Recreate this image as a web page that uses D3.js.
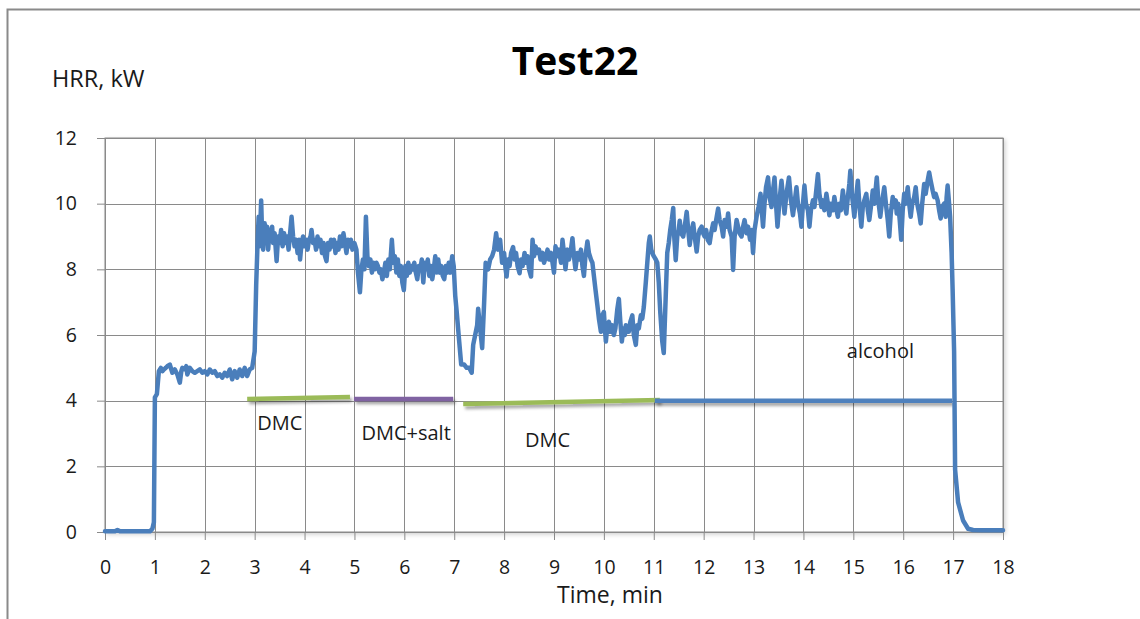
<!DOCTYPE html>
<html>
<head>
<meta charset="utf-8">
<script src="https://cdn.jsdelivr.net/npm/d3@7"></script>
<style>
  html, body { margin: 0; padding: 0; background: #fff; }
  svg { display: block; font-family: "Open Sans", "Noto Sans", sans-serif; }
</style>
</head>
<body>
<svg id="chart" width="1140" height="619"></svg>
<script>
// Heat release rate, Test22: [time (min), HRR (kW)] by stage of the test
const hrrBefore = [
  [0, 0.02], [0.2, 0.02], [0.25, 0.06], [0.3, 0.02], [0.9, 0.02], [0.95, 0.1], [0.98, 0.3]
];
const hrrIgnition = [
  [1.0, 4.1], [1.04, 4.2], [1.08, 4.9], [1.12, 5.0], [1.15, 4.9], [1.18, 4.95], [1.22, 5.0],
  [1.25, 5.05], [1.3, 5.1], [1.33, 4.95], [1.35, 4.85], [1.4, 4.95], [1.45, 4.8], [1.5, 4.55],
  [1.53, 4.9], [1.55, 5.0], [1.6, 4.95], [1.63, 5.05], [1.65, 4.8], [1.7, 5.0], [1.75, 4.9],
  [1.8, 4.85], [1.85, 4.9], [1.9, 4.95], [1.95, 4.85], [2.0, 4.9], [2.05, 4.8], [2.1, 4.95],
  [2.15, 4.85], [2.2, 4.9], [2.25, 4.75], [2.3, 4.8], [2.35, 4.7], [2.4, 4.85], [2.45, 4.75],
  [2.5, 4.95], [2.55, 4.65], [2.6, 4.9], [2.65, 4.7], [2.7, 4.95], [2.75, 4.75], [2.8, 5.0],
  [2.85, 4.75], [2.9, 4.95], [2.95, 5.0], [2.98, 5.3]
];
const hrrDmc1 = [
  [3.0, 5.5], [3.03, 7.5], [3.06, 8.9], [3.08, 9.6], [3.1, 8.7], [3.13, 10.1], [3.15, 9.0],
  [3.17, 8.6], [3.2, 9.4], [3.22, 8.8], [3.25, 9.3], [3.27, 8.6], [3.3, 9.2], [3.32, 8.9],
  [3.35, 9.3], [3.37, 8.8], [3.4, 9.1], [3.44, 8.25], [3.47, 9.0], [3.5, 8.8], [3.53, 9.2],
  [3.56, 8.7], [3.59, 9.1], [3.62, 8.8], [3.65, 9.0], [3.68, 8.6], [3.71, 9.1], [3.74, 9.6],
  [3.77, 9.0], [3.8, 8.7], [3.83, 8.9], [3.86, 8.5], [3.89, 8.9], [3.91, 8.3], [3.94, 8.8],
  [3.97, 9.0], [4.0, 8.7], [4.03, 8.9], [4.06, 8.6], [4.09, 8.9], [4.12, 9.0], [4.14, 9.2],
  [4.17, 8.8], [4.2, 8.9], [4.23, 8.6], [4.26, 9.0], [4.29, 8.7], [4.32, 8.9], [4.35, 8.5],
  [4.38, 8.8], [4.41, 8.4], [4.44, 8.25], [4.47, 8.8], [4.5, 8.6], [4.53, 8.9], [4.56, 8.7],
  [4.59, 8.9], [4.62, 8.5], [4.65, 8.8], [4.68, 8.6], [4.71, 9.0], [4.74, 8.7], [4.78, 9.1],
  [4.81, 8.8], [4.84, 8.5], [4.87, 8.9], [4.9, 8.7], [4.93, 8.9], [4.96, 8.6]
];
const hrrDmcSalt = [
  [5.0, 8.8], [5.04, 8.6], [5.07, 7.9], [5.11, 7.3], [5.14, 8.0], [5.17, 8.3], [5.2, 8.0],
  [5.23, 9.6], [5.26, 8.4], [5.29, 8.1], [5.32, 8.3], [5.35, 7.9], [5.38, 8.2], [5.41, 8.0],
  [5.44, 8.2], [5.47, 8.1], [5.5, 7.9], [5.53, 8.0], [5.56, 7.7], [5.59, 7.9], [5.62, 8.2],
  [5.65, 7.8], [5.68, 8.3], [5.71, 8.0], [5.75, 8.9], [5.78, 8.2], [5.81, 8.4], [5.84, 7.9],
  [5.87, 8.3], [5.9, 7.8], [5.93, 8.1], [5.96, 7.6], [5.99, 7.37], [6.02, 8.1], [6.05, 7.8],
  [6.08, 8.2], [6.11, 7.9], [6.14, 8.1], [6.17, 8.0], [6.2, 8.2], [6.23, 7.9], [6.26, 7.7],
  [6.29, 8.1], [6.32, 8.0], [6.35, 8.3], [6.38, 7.6], [6.41, 8.2], [6.44, 8.0], [6.47, 8.3],
  [6.5, 7.8], [6.53, 8.1], [6.56, 7.7], [6.59, 8.0], [6.62, 8.4], [6.65, 7.9], [6.68, 8.3],
  [6.71, 7.9], [6.74, 8.1], [6.77, 7.8], [6.8, 7.7], [6.83, 8.1], [6.86, 7.9], [6.89, 8.2],
  [6.92, 7.9], [6.96, 8.4], [6.99, 8.1]
];
const hrrDmc2 = [
  [7.02, 7.2], [7.05, 6.7], [7.1, 5.8], [7.14, 5.1], [7.2, 5.1], [7.25, 5.0], [7.3, 5.0],
  [7.35, 4.85], [7.38, 5.7], [7.42, 6.0], [7.46, 6.3], [7.48, 6.8], [7.52, 6.2], [7.56, 5.6],
  [7.6, 7.0], [7.63, 8.2], [7.68, 8.0], [7.72, 8.3], [7.76, 8.4], [7.8, 8.6], [7.84, 9.1],
  [7.88, 8.6], [7.92, 8.9], [7.96, 8.2], [8.0, 8.5], [8.03, 8.0], [8.05, 7.78], [8.08, 8.3],
  [8.11, 8.1], [8.14, 8.5], [8.18, 8.68], [8.21, 8.3], [8.24, 8.5], [8.27, 8.1], [8.31, 7.88],
  [8.34, 8.3], [8.37, 8.1], [8.41, 8.5], [8.44, 8.2], [8.47, 8.4], [8.5, 8.0], [8.54, 7.78],
  [8.57, 8.9], [8.6, 8.4], [8.63, 8.7], [8.67, 8.5], [8.7, 8.6], [8.73, 8.3], [8.77, 8.5],
  [8.8, 8.2], [8.84, 8.4], [8.87, 8.6], [8.9, 8.3], [8.94, 8.5], [8.97, 8.2], [9.0, 7.9],
  [9.03, 8.7], [9.07, 8.4], [9.1, 8.6], [9.14, 8.2], [9.17, 8.9], [9.2, 8.5], [9.23, 8.0],
  [9.27, 8.6], [9.3, 8.3], [9.34, 8.6], [9.37, 8.95], [9.4, 8.4], [9.43, 8.0], [9.47, 8.5],
  [9.5, 8.3], [9.54, 8.6], [9.57, 8.1], [9.6, 7.8], [9.63, 8.4], [9.67, 8.85], [9.7, 8.5],
  [9.74, 8.3], [9.77, 8.2], [9.8, 7.8], [9.83, 7.4], [9.87, 6.9], [9.9, 6.5], [9.94, 6.1],
  [9.97, 6.6], [10.0, 6.7], [10.02, 6.2], [10.04, 5.8], [10.07, 6.3], [10.1, 6.4], [10.13, 6.1],
  [10.16, 6.3], [10.2, 6.0], [10.23, 6.2], [10.27, 6.8], [10.3, 7.1], [10.33, 6.4], [10.36, 5.8],
  [10.39, 6.2], [10.42, 6.0], [10.44, 6.3], [10.47, 6.1], [10.5, 6.1], [10.53, 6.4], [10.57, 6.6],
  [10.6, 6.0], [10.64, 5.7], [10.67, 6.3], [10.7, 6.2], [10.74, 6.6], [10.77, 6.5], [10.8, 6.85],
  [10.84, 7.6], [10.87, 8.2], [10.9, 8.8], [10.92, 9.0], [10.95, 8.6], [10.97, 8.5]
];
const hrrAlcohol = [
  [11.0, 8.4], [11.04, 8.3], [11.07, 8.2], [11.1, 7.6], [11.13, 6.7], [11.17, 5.8], [11.2, 5.45],
  [11.24, 7.2], [11.27, 8.5], [11.3, 8.8], [11.33, 9.2], [11.36, 9.5], [11.39, 9.87], [11.41, 9.0],
  [11.44, 8.28], [11.47, 9.0], [11.5, 9.2], [11.52, 9.48], [11.55, 9.1], [11.59, 9.0], [11.62, 9.3],
  [11.66, 9.75], [11.69, 9.2], [11.72, 8.74], [11.75, 9.1], [11.79, 9.4], [11.82, 9.0], [11.86, 8.54],
  [11.89, 9.0], [11.92, 9.2], [11.96, 9.3], [11.99, 9.1], [12.02, 9.0], [12.05, 9.2], [12.08, 8.9],
  [12.12, 8.8], [12.15, 9.1], [12.19, 9.4], [12.22, 9.2], [12.25, 9.5], [12.29, 9.85], [12.32, 9.5],
  [12.36, 9.3], [12.39, 9.0], [12.42, 9.5], [12.46, 9.3], [12.49, 9.7], [12.52, 9.2], [12.56, 9.0],
  [12.59, 7.98], [12.62, 9.0], [12.66, 9.5], [12.69, 9.3], [12.72, 9.1], [12.76, 9.0], [12.79, 9.3],
  [12.82, 9.5], [12.86, 9.1], [12.89, 9.3], [12.93, 8.9], [12.96, 9.2], [12.99, 8.5], [13.02, 9.2],
  [13.06, 9.6], [13.1, 9.9], [13.14, 10.3], [13.17, 9.7], [13.19, 9.3], [13.22, 10.0], [13.25, 10.5],
  [13.29, 10.8], [13.32, 10.2], [13.36, 9.9], [13.39, 10.4], [13.42, 10.8], [13.45, 10.0], [13.48, 9.3],
  [13.52, 10.1], [13.56, 10.7], [13.59, 10.2], [13.62, 9.7], [13.66, 10.3], [13.71, 10.8], [13.75, 10.1],
  [13.79, 9.65], [13.82, 10.0], [13.86, 10.5], [13.89, 10.0], [13.93, 9.7], [13.96, 9.3], [13.99, 10.0],
  [14.02, 10.55], [14.05, 10.0], [14.09, 9.8], [14.12, 9.3], [14.15, 9.8], [14.19, 10.1], [14.22, 9.9],
  [14.25, 10.3], [14.29, 10.9], [14.32, 10.3], [14.36, 9.9], [14.39, 10.1], [14.42, 9.8], [14.46, 10.3],
  [14.49, 10.0], [14.52, 9.65], [14.55, 10.0], [14.59, 9.8], [14.62, 10.2], [14.65, 9.9], [14.69, 9.6],
  [14.72, 10.0], [14.75, 9.8], [14.79, 10.4], [14.82, 10.0], [14.86, 9.7], [14.89, 10.2], [14.92, 10.6],
  [14.94, 11.0], [14.97, 10.3], [15.0, 9.9], [15.02, 9.6], [15.05, 10.1], [15.09, 10.7], [15.12, 10.0],
  [15.16, 9.3], [15.19, 9.9], [15.22, 10.1], [15.26, 10.3], [15.29, 9.8], [15.32, 9.5], [15.36, 10.0],
  [15.39, 10.4], [15.42, 10.0], [15.47, 10.8], [15.5, 10.1], [15.54, 9.6], [15.57, 10.0], [15.6, 10.3],
  [15.62, 10.5], [15.66, 9.9], [15.69, 9.5], [15.72, 9.0], [15.75, 9.7], [15.79, 10.2], [15.82, 9.9],
  [15.85, 10.1], [15.87, 9.7], [15.9, 10.0], [15.93, 9.5], [15.96, 8.9], [15.99, 9.8], [16.02, 10.3],
  [16.05, 10.0], [16.09, 10.5], [16.12, 10.0], [16.15, 9.6], [16.18, 10.0], [16.22, 10.2], [16.25, 10.5],
  [16.28, 10.0], [16.32, 9.7], [16.35, 9.4], [16.38, 10.0], [16.42, 10.6], [16.45, 10.3], [16.49, 10.7],
  [16.52, 10.95], [16.55, 10.7], [16.59, 10.4], [16.62, 10.2], [16.65, 10.3], [16.69, 10.1], [16.72, 9.8],
  [16.75, 9.55], [16.78, 9.9], [16.82, 10.0], [16.85, 9.6], [16.87, 10.2], [16.89, 10.55], [16.92, 10.0],
  [16.94, 9.6], [16.97, 8.5], [16.99, 7.4]
];
const hrrDecay = [
  [17.02, 5.5], [17.04, 1.9], [17.1, 0.9], [17.2, 0.35], [17.3, 0.1], [17.4, 0.06], [17.6, 0.05], [18.0, 0.05]
];

// Fuel phases drawn as bars just under the curve
const phaseNames  = ["DMC", "DMC+salt", "DMC", "alcohol"];
const phaseStart  = [2.85, 4.99, 7.18, 11.02];
const phaseEnd    = [4.91, 6.98, 11.12, 16.98];
const phaseLevel0 = [4.05, 4.05, 3.9, 4.0];
const phaseLevel1 = [4.11, 4.05, 4.02, 4.0];
const phaseColors = ["#9bbb59", "#8064a2", "#9bbb59", "#4f81bd"];
// label anchor (time, HRR) for each phase name
const phaseLabelT = [3.05, 5.14, 8.42, 14.87];
const phaseLabelV = [3.1, 2.8, 2.6, 5.3];

const xTicks = d3.range(0, 19, 1);
const yTicks = [0, 2, 4, 6, 8, 10, 12];

const svg = d3.select("#chart");
const W = 1140, H = 619;
const plot = { left: 105, right: 1003, top: 138, bottom: 532 };

const x = d3.scaleLinear().domain([0, 18]).range([plot.left, plot.right]);
const y = d3.scaleLinear().domain([0, 12]).range([plot.bottom, plot.top]);

const defs = svg.append("defs");
const sh = defs.append("filter").attr("id", "shade").attr("filterUnits", "userSpaceOnUse")
  .attr("x", 0).attr("y", 0).attr("width", W).attr("height", H);
sh.append("feDropShadow").attr("dx", 2).attr("dy", 3).attr("stdDeviation", 1.6)
  .attr("flood-color", "#000").attr("flood-opacity", 0.35);
const psh = defs.append("filter").attr("id", "plotShade").attr("filterUnits", "userSpaceOnUse")
  .attr("x", 0).attr("y", 0).attr("width", W).attr("height", H);
psh.append("feDropShadow").attr("dx", 2).attr("dy", 2).attr("stdDeviation", 2)
  .attr("flood-color", "#000").attr("flood-opacity", 0.18);

// outer chart frame
svg.append("rect")
  .attr("x", 7.5).attr("y", 9.5).attr("width", W + 20).attr("height", H + 20)
  .attr("fill", "#fff").attr("stroke", "#8a8a8a").attr("stroke-width", 2);

// plot area
svg.append("rect")
  .attr("x", plot.left).attr("y", plot.top)
  .attr("width", plot.right - plot.left).attr("height", plot.bottom - plot.top)
  .attr("fill", "#fff").attr("stroke", "#8a8a8a").attr("stroke-width", 1)
  .attr("filter", "url(#plotShade)");

// gridlines
const grid = svg.append("g").attr("stroke", "#8a8a8a").attr("stroke-width", 1).attr("shape-rendering", "crispEdges");
grid.selectAll(".gx").data(xTicks).join("line")
  .attr("x1", d => Math.round(x(d)) + 0.5).attr("x2", d => Math.round(x(d)) + 0.5)
  .attr("y1", plot.top).attr("y2", plot.bottom);
grid.selectAll(".gy").data(yTicks).join("line")
  .attr("y1", d => Math.round(y(d)) + 0.5).attr("y2", d => Math.round(y(d)) + 0.5)
  .attr("x1", plot.left).attr("x2", plot.right);

// axes
const xAxis = d3.axisBottom(x).tickValues(xTicks).tickSize(8).tickPadding(20).tickFormat(d3.format("d"));
const yAxis = d3.axisLeft(y).tickValues(yTicks).tickSize(8).tickPadding(20).tickFormat(d3.format("d"));

const gx = svg.append("g").attr("transform", `translate(0,${plot.bottom})`).call(xAxis);
const gy = svg.append("g").attr("transform", `translate(${plot.left},0)`).call(yAxis);
[gx, gy].forEach(g => {
  g.select(".domain").attr("stroke", "#8a8a8a");
  g.selectAll(".tick line").attr("stroke", "#8a8a8a");
  g.selectAll(".tick text").attr("fill", "#1a1a1a")
    .style("font-size", "19.5px").style("font-family", "'Open Sans', sans-serif");
});

// phase bars
const phases = phaseNames.map((n, i) => ({
  name: n, t0: phaseStart[i], t1: phaseEnd[i], v0: phaseLevel0[i], v1: phaseLevel1[i],
  color: phaseColors[i], lt: phaseLabelT[i], lv: phaseLabelV[i]
}));
svg.append("g").selectAll("line").data(phases).join("line")
  .attr("x1", d => x(d.t0)).attr("x2", d => x(d.t1))
  .attr("y1", d => y(d.v0)).attr("y2", d => y(d.v1))
  .attr("stroke", d => d.color).attr("stroke-width", 4.5)
  .attr("filter", "url(#shade)");

// HRR curve
const pts = [].concat(hrrBefore, hrrIgnition, hrrDmc1, hrrDmcSalt, hrrDmc2, hrrAlcohol, hrrDecay);
const line = d3.line().x(d => x(d[0])).y(d => y(d[1]));
svg.append("path").datum(pts)
  .attr("d", line)
  .attr("fill", "none").attr("stroke", "#4a7ebb").attr("stroke-width", 4.5)
  .attr("stroke-linejoin", "round").attr("stroke-linecap", "round");

// phase labels
svg.append("g").selectAll("text").data(phases).join("text")
  .attr("x", d => x(d.lt)).attr("y", d => y(d.lv))
  .attr("text-anchor", "start")
  .style("font-size", "20px").attr("fill", "#1a1a1a")
  .text(d => d.name);

// titles
svg.append("text").attr("x", 575).attr("y", 75).attr("text-anchor", "middle")
  .style("font-size", "39px").style("font-weight", "bold").attr("fill", "#000")
  .text("Test22");
svg.append("text").attr("x", 52).attr("y", 87)
  .style("font-size", "23.5px").attr("fill", "#1a1a1a").text("HRR, kW");
svg.append("text").attr("x", 610).attr("y", 603).attr("text-anchor", "middle")
  .style("font-size", "23px").attr("fill", "#1a1a1a").text("Time, min");
</script>
</body>
</html>
